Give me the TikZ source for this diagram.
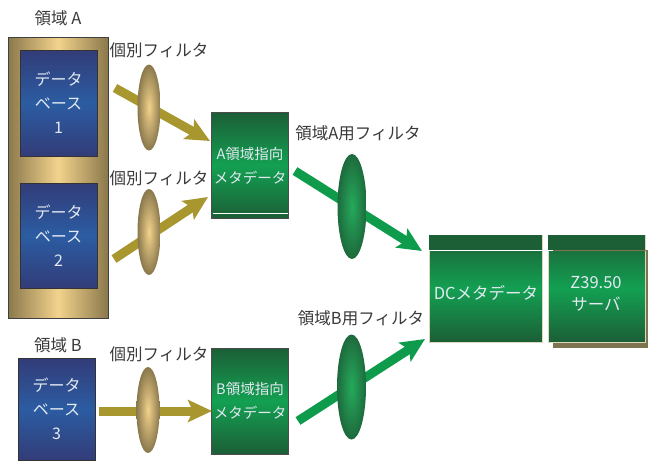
\documentclass[tikz,border=0pt]{standalone}
\usepackage{fontspec}
\setmainfont{Noto Sans CJK JP}
\usetikzlibrary{shadings,shapes.geometric,arrows.meta}
\definecolor{goldD}{HTML}{8A784C}
\definecolor{goldL}{HTML}{F3D38C}
\definecolor{goldA}{HTML}{A8962F}
\definecolor{navyD}{HTML}{323C78}
\definecolor{navyM}{HTML}{2C5CA2}
\definecolor{grnD}{HTML}{1C5E36}
\definecolor{grnM}{HTML}{13A052}
\definecolor{grnA}{HTML}{0E9C4C}
\definecolor{grnE}{HTML}{1D6A3C}
\definecolor{grnC}{HTML}{25AA5C}
\definecolor{labelc}{HTML}{3A3A3A}
\definecolor{boxtxt}{HTML}{E2EAF2}
\definecolor{shadowc}{HTML}{7E7550}
\definecolor{edgec}{HTML}{DCD8BC}
\tikzset{
  lbl/.style={text=labelc,font=\fontsize{16.5}{18}\selectfont,inner sep=0pt},
  goldbox/.style={draw=black!75,line width=1pt,left color=goldD,right color=goldD,middle color=goldL,minimum width=100pt,minimum height=281pt,inner sep=0pt},
  dbbox/.style={draw=black!80,line width=0.8pt,top color=navyD,bottom color=navyD,middle color=navyM,minimum width=77pt,inner sep=0pt,text=boxtxt,align=center,font=\fontsize{16}{24}\selectfont},
  grnbox/.style={draw=black!70,line width=0.8pt,top color=grnD,bottom color=grnD,middle color=grnM,minimum width=77pt,minimum height=106pt,inner sep=0pt,text=boxtxt,align=center,font=\fontsize{14.5}{24}\selectfont},
  bigbox/.style={draw=edgec,line width=0.8pt,top color=grnD,bottom color=grnD,middle color=grnM,minimum height=107pt,inner sep=0pt},
  bigtxt/.style={text=boxtxt,align=center,font=\fontsize{16.5}{22}\selectfont,inner sep=0pt},
  goldlens/.style={ellipse,inner color=goldL,outer color=goldD,minimum width=23pt,minimum height=86pt,inner sep=0pt},
  grnlens/.style={ellipse,inner color=grnC,outer color=grnE,minimum width=29pt,minimum height=105pt,inner sep=0pt},
  goldarrow/.style={goldA,line width=9pt,-{Stealth[length=24pt,width=22pt,inset=5pt]}},
  grnarrow/.style={grnA,line width=9pt,-{Stealth[length=24pt,width=22pt,inset=5pt]}},
}
\begin{document}
\begin{tikzpicture}[x=1pt,y=-1pt]
\useasboundingbox (0,0) rectangle (648,461);
% domain A
\node[lbl] (labA) at (58,18) {領域 A};
\node[goldbox] (domA) at (58,177.5) {};
\node[dbbox,minimum height=106pt] (db1) at (58.5,103) {データ\\ベース\\1};
\node[dbbox,minimum height=105pt] (db2) at (58.5,235.5) {データ\\ベース\\2};
% domain B
\node[lbl] (labB) at (58,345) {領域 B};
\node[dbbox,minimum height=102pt] (db3) at (56.5,409) {データ\\ベース\\3};
% filter labels
\node[lbl] (f1l) at (159,50) {個別フィルタ};
\node[lbl] (f2l) at (159,178) {個別フィルタ};
\node[lbl] (f3l) at (159,354) {個別フィルタ};
\node[lbl] (fAl) at (358,133) {領域A用フィルタ};
\node[lbl] (fBl) at (361,318) {領域B用フィルタ};
% domain metadata boxes
\node[grnbox] (mA) at (250,165.5) {A領域指向\\メタデータ};
\draw[white,line width=1pt] ([xshift=2pt,yshift=5pt]mA.south west) -- ([xshift=-1pt,yshift=5pt]mA.south east);
\node[grnbox] (mB) at (250,401) {B領域指向\\メタデータ};
% DC and Z39.50
\fill[shadowc] (553,250) rectangle (648,348);
\node[bigbox,minimum width=113pt] (dc) at (485.5,288.5) {};
\node[bigbox,minimum width=97pt] (z) at (596.5,288.5) {};
\fill[grnD] ([shift={(0.6pt,-0.6pt)}]dc.north west) rectangle ([shift={(-0.6pt,-15pt)}]dc.north east);
\fill[grnD] ([shift={(0.6pt,-0.6pt)}]z.north west) rectangle ([shift={(-0.6pt,-15pt)}]z.north east);
\node[bigtxt] (dct) at (486,293) {DCメタデータ};
\node[bigtxt] (zt) at (596,294) {Z39.50\\サーバ};
\coordinate (wl1) at (420,250);
\coordinate (wl2) at (553,250);
\coordinate (wl3) at (648,250);
\draw[white,line width=1pt] (wl1) -- (wl2);
\draw[shadowc,line width=1pt] (wl2) -- (wl3);
% arrows
\coordinate (a1s) at (115,88);  \coordinate (a1e) at (210,141);
\coordinate (a2s) at (114,259); \coordinate (a2e) at (208,197);
\coordinate (a3s) at (99,411);  \coordinate (a3e) at (212,411);
\coordinate (aAs) at (295,171); \coordinate (aAe) at (422,251);
\coordinate (aBs) at (298,421); \coordinate (aBe) at (425,339);
\draw[goldarrow] (a1s) -- (a1e);
\draw[goldarrow] (a2s) -- (a2e);
\draw[goldarrow] (a3s) -- (a3e);
\draw[grnarrow] (aAs) -- (aAe);
\draw[grnarrow] (aBs) -- (aBe);
% lenses
\node[goldlens] (l1) at (149,107.5) {};
\node[goldlens] (l2) at (149,232) {};
\node[goldlens] (l3) at (148,410) {};
\node[grnlens] (lA) at (352,206.5) {};
\node[grnlens] (lB) at (351.5,387) {};
\end{tikzpicture}
\end{document}
